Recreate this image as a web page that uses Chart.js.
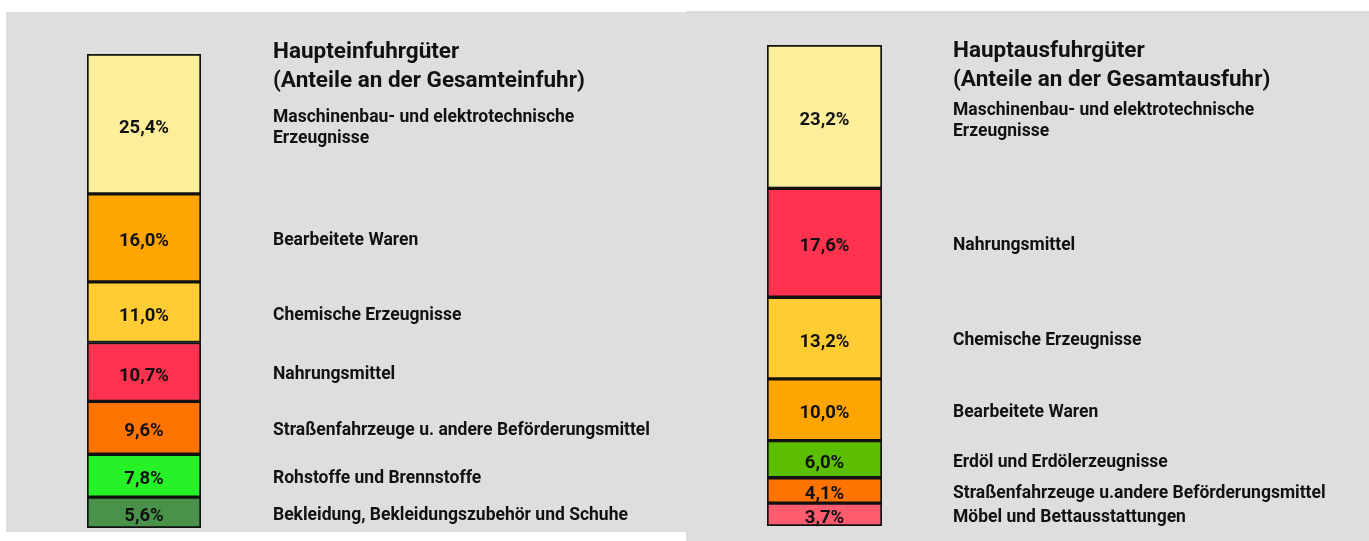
<!DOCTYPE html>
<html>
<head>
<meta charset="utf-8">
<script src="https://cdn.jsdelivr.net/npm/chart.js@4"></script>
<style>
  html, body { margin: 0; padding: 0; background: #fff; }
  body { width: 1369px; height: 541px; position: relative; overflow: hidden; }
  .panel { position: absolute; background: #dedede; }
  #pEin { left: 6px; top: 12px; width: 680px; height: 520px; }
  #pAus { left: 686px; top: 11px; width: 683px; height: 530px; }
</style>
</head>
<body>
<div class="panel" id="pEin"><canvas id="cEin"></canvas></div>
<div class="panel" id="pAus"><canvas id="cAus"></canvas></div>
<script>
// Einfuhr (oben -> unten)
const einTitel = ['Haupteinfuhrgüter', '(Anteile an der Gesamteinfuhr)'];
const einKategorien = [
  ['Maschinenbau- und elektrotechnische', 'Erzeugnisse'],
  ['Bearbeitete Waren'],
  ['Chemische Erzeugnisse'],
  ['Nahrungsmittel'],
  ['Straßenfahrzeuge u. andere Beförderungsmittel'],
  ['Rohstoffe und Brennstoffe'],
  ['Bekleidung, Bekleidungszubehör und Schuhe'],
];
const einWerte = [25.4, 16.0, 11.0, 10.7, 9.6, 7.8, 5.6];
const einFarben = ['#fdee9c', '#ffa500', '#ffcc33', '#ff334f', '#ff7300', '#27f227', '#4a9149'];

// Ausfuhr (oben -> unten)
const ausTitel = ['Hauptausfuhrgüter', '(Anteile an der Gesamtausfuhr)'];
const ausKategorien = [
  ['Maschinenbau- und elektrotechnische', 'Erzeugnisse'],
  ['Nahrungsmittel'],
  ['Chemische Erzeugnisse'],
  ['Bearbeitete Waren'],
  ['Erdöl und Erdölerzeugnisse'],
  ['Straßenfahrzeuge u.andere Beförderungsmittel'],
  ['Möbel und Bettausstattungen'],
];
const ausWerte = [23.2, 17.6, 13.2, 10.0, 6.0, 4.1, 3.7];
const ausFarben = ['#fdee9c', '#ff334f', '#ffcc33', '#ffa500', '#5bbf00', '#ff7300', '#ff5c6f'];

const FONT = 'Roboto, "Open Sans", sans-serif';
const fmt = v => v.toFixed(1).replace('.', ',') + '%';

// Titel, Prozentwerte und Beschriftungen rechts vom Balken
const textPlugin = {
  id: 'texte',
  afterDatasetsDraw(chart, args, opts) {
    const ctx = chart.ctx;
    ctx.save();
    ctx.fillStyle = '#111';
    ctx.textAlign = 'left';
    ctx.textBaseline = 'alphabetic';
    ctx.font = `bold 22.5px ${FONT}`;
    opts.titel.forEach((t, i) => ctx.fillText(t, opts.textX, opts.titelY + i * 29));

    chart.data.datasets.forEach((ds, i) => {
      const bar = chart.getDatasetMeta(i).data[0];
      if (!bar) return;
      const yMid = (bar.y + bar.base) / 2;
      ctx.textBaseline = 'middle';
      ctx.textAlign = 'center';
      ctx.font = `bold 18.5px ${FONT}`;
      ctx.fillText(fmt(ds.data[0]), bar.x, yMid + 4);
      ctx.font = `bold 17.5px ${FONT}`;
      ctx.textAlign = 'left';
      const lines = ds.kategorie;
      const off = lines.length > 1 ? -9 : 0;
      lines.forEach((l, k) => ctx.fillText(l, opts.textX, yMid + off + k * 21 + 3));
    });
    ctx.restore();
  }
};

function renderSaeule(canvasId, titel, kategorien, werte, farben, pad, titelY) {
  const ctx = document.getElementById(canvasId)?.getContext('2d');
  if (!ctx) return null;
  const summe = werte.reduce((a, b) => a + b, 0);

  // Chart.js stapelt von unten nach oben -> umdrehen
  const datasets = werte.map((v, i) => ({
    label: kategorien[i].join(' '),
    kategorie: kategorien[i],
    data: [v],
    backgroundColor: farben[i],
    borderColor: '#111',
    borderWidth: 2,
    borderSkipped: false,
    barPercentage: 1,
    categoryPercentage: 1,
  })).reverse();

  return new Chart(ctx, {
    type: 'bar',
    data: { labels: [''], datasets },
    options: {
      responsive: true,
      maintainAspectRatio: false,
      animation: false,
      layout: { padding: pad },
      plugins: {
        legend: { display: false },
        tooltip: { enabled: false },
        texte: { titel, textX: 267, titelY },
      },
      scales: {
        x: { stacked: true, display: false },
        y: { stacked: true, display: false, min: 0, max: summe },
      },
    },
    plugins: [textPlugin],
  });
}

renderSaeule('cEin', einTitel, einKategorien, einWerte, einFarben,
  { left: 81, right: 485, top: 42, bottom: 4 }, 46);
renderSaeule('cAus', ausTitel, ausKategorien, ausWerte, ausFarben,
  { left: 81, right: 487, top: 34, bottom: 15 }, 46);
</script>
</body>
</html>
